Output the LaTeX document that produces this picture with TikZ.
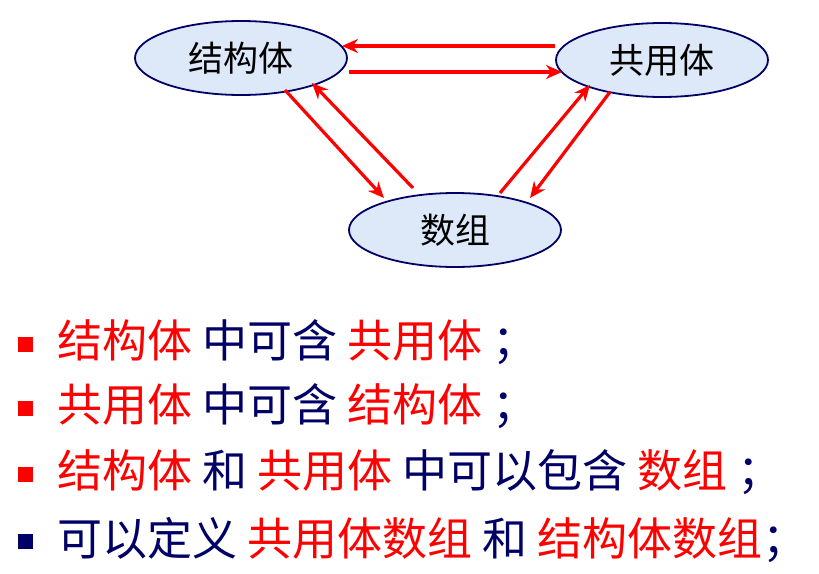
\documentclass[tikz,border=0pt]{standalone}
\usepackage{fontspec}
\setmainfont{Noto Sans CJK SC}
\usetikzlibrary{shapes.geometric,arrows.meta}
\definecolor{navy}{HTML}{000066}
\definecolor{fillb}{HTML}{DDE8F8}
\begin{document}
\begin{tikzpicture}[x=1pt,y=-1pt,
  ell/.style={ellipse,draw=navy,line width=1.8pt,fill=fillb,minimum width=212pt,minimum height=74pt,font=\fontsize{35}{35}\selectfont},
  ar/.style={red,line width=3.2pt,-{Stealth[length=16pt,width=14pt]}},
  txt/.style={anchor=west,font=\fontsize{45}{45}\selectfont,text=navy,inner sep=0pt},
  bul/.style={minimum size=15pt,inner sep=0pt}]
\useasboundingbox (0,0) rectangle (819,573);
\node[ell] (s) at (241,58) {结构体};
\node[ell] (u) at (662,60) {共用体};
\node[ell] (a) at (455,230) {数组};
\coordinate (p1) at (555,46); \coordinate (p2) at (342,46);
\coordinate (p3) at (349,72); \coordinate (p4) at (562,72);
\coordinate (p5) at (285,90); \coordinate (p6) at (384,198);
\coordinate (p7) at (413,188); \coordinate (p8) at (312,83);
\coordinate (p9) at (500,193); \coordinate (p10) at (590,85);
\coordinate (p11) at (610,92); \coordinate (p12) at (530,198);
\draw[ar] (p1)--(p2); \draw[ar] (p3)--(p4);
\draw[ar] (p5)--(p6); \draw[ar] (p7)--(p8);
\draw[ar] (p9)--(p10); \draw[ar] (p11)--(p12);
\node[bul,fill=red] (b1) at (25,344) {};
\node[bul,fill=red] (b2) at (25,408) {};
\node[bul,fill=red] (b3) at (25,474) {};
\node[bul,fill=navy] (b4) at (25,541) {};
\node[txt] (t1) at (57,342) {\textcolor{red}{结构体} 中可含 \textcolor{red}{共用体}\ ；};
\node[txt] (t2) at (57,406) {\textcolor{red}{共用体} 中可含 \textcolor{red}{结构体}\ ；};
\node[txt] (t3) at (57,472) {\textcolor{red}{结构体} 和 \textcolor{red}{共用体} 中可以包含 \textcolor{red}{数组}\ ；};
\node[txt] (t4) at (57,540) {可以定义 \textcolor{red}{共用体数组} 和 \textcolor{red}{结构体数组}；};
\end{tikzpicture}
\end{document}
